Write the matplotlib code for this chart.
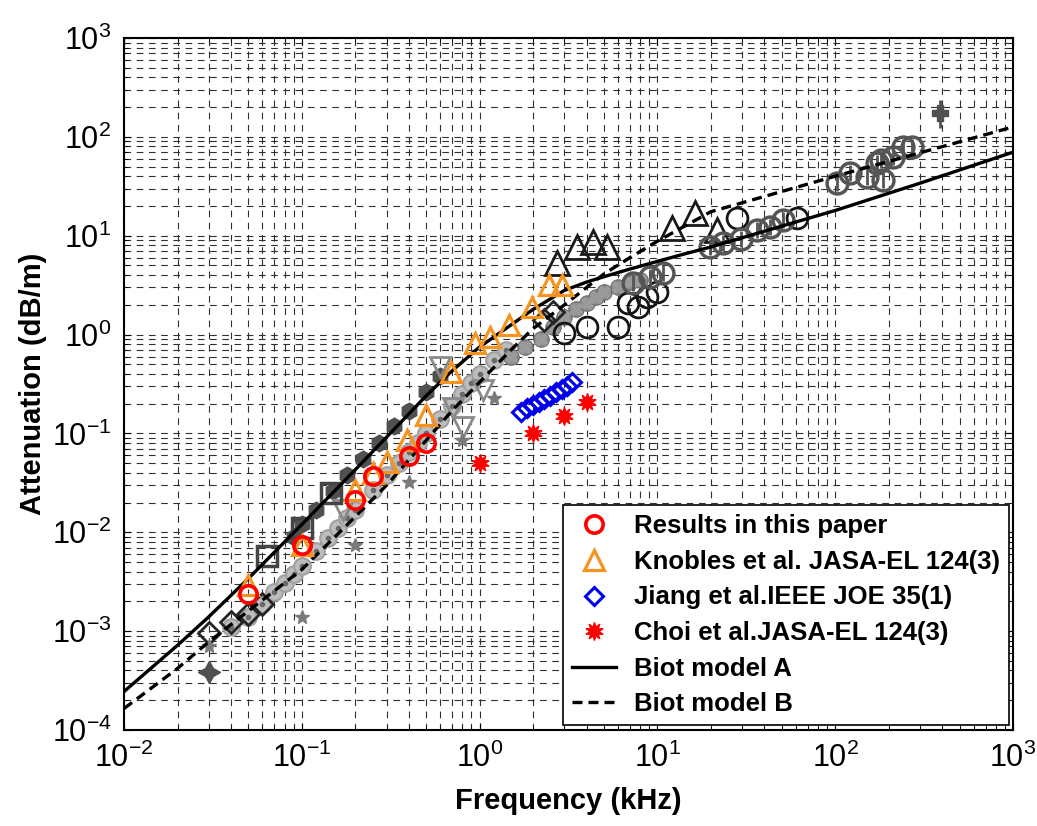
import numpy as np
import matplotlib.pyplot as plt
from matplotlib.ticker import NullFormatter

plt.rcParams['font.family'] = ['Liberation Sans', 'DejaVu Sans']
plt.rcParams['mathtext.default'] = 'regular'

# --- Biot model curves ---
f_model = [0.01, 0.02, 0.03, 0.05, 0.1, 0.2, 0.3, 0.5, 0.7, 1.0, 1.5, 2.0, 3.0, 4.0, 5.0, 7.0,
           10, 14, 20, 50, 100, 300, 1000]
biot_a = [2.45e-4, 7.2e-4, 1.4e-3, 3.4e-3, 0.012, 0.043, 0.092, 0.24, 0.43, 0.75, 1.25, 1.8, 2.8,
          3.4, 3.85, 4.6, 5.5, 6.5, 7.7, 12.5, 18, 34, 70]
biot_b = [1.65e-4, 4.2e-4, 7.8e-4, 1.6e-3, 4.2e-3, 0.0144, 0.03, 0.085, 0.17, 0.33, 0.7, 1.15,
          2.0, 3.0, 4.1, 6.0, 8.8, 12.3, 17.5, 28, 40, 69, 126]

# --- highlighted data sets ---
f_paper = [0.05, 0.1, 0.2, 0.25, 0.4, 0.5]
a_paper = [0.0024, 0.0074, 0.021, 0.037, 0.059, 0.08]

f_knobles = [0.05, 0.1, 0.2, 0.25, 0.3, 0.39, 0.5, 0.69, 0.94, 1.15, 1.47, 1.96, 2.47, 2.92]
a_knobles = [0.0029, 0.0074, 0.027, 0.040, 0.051, 0.086, 0.154, 0.42, 0.83, 0.95, 1.26, 1.9, 3.2, 3.2]

f_jiang = [1.7, 1.85, 2.0, 2.15, 2.3, 2.5, 2.7, 2.9, 3.1, 3.3]
a_jiang = [0.165, 0.18, 0.195, 0.21, 0.225, 0.24, 0.26, 0.28, 0.30, 0.33]

f_choi = [1.0, 2.0, 3.0, 4.0]
a_choi = [0.05, 0.10, 0.15, 0.21]

# --- background (grey) data sets ---
f_g_fill = [0.04, 0.05, 0.06, 0.07, 0.08, 0.09, 0.1, 0.12, 0.14, 0.16, 0.18, 0.2, 0.25, 0.3,
            0.35, 0.4, 0.45, 0.5, 0.6, 0.7, 0.8, 0.9, 1.0, 1.2, 1.4]
a_g_fill = [0.0011, 0.0014, 0.0019, 0.0025, 0.0031, 0.0038, 0.0046, 0.0065, 0.0088, 0.011, 0.014,
            0.017, 0.027, 0.038, 0.05, 0.065, 0.08, 0.1, 0.14, 0.19, 0.25, 0.32, 0.4, 0.55, 0.7]

f_g_hex = [0.09, 0.1, 0.12, 0.15, 0.18, 0.22, 0.27, 0.33, 0.4, 0.5, 0.6]
a_g_hex = [0.009, 0.012, 0.017, 0.026, 0.038, 0.055, 0.08, 0.12, 0.17, 0.26, 0.38]

f_g_tri_dn = [0.17, 0.6, 0.71, 0.81, 1.04]
a_g_tri_dn = [0.017, 0.47, 0.18, 0.116, 0.275]

f_g_sq = [0.064, 0.1, 0.145]
a_g_sq = [0.0057, 0.011, 0.025]

f_g_dia = [0.03, 0.04, 0.05, 0.06, 2.3, 2.6]
a_g_dia = [0.00095, 0.00125, 0.0015, 0.0019, 1.4, 1.7]

f_g_ast = [0.03, 0.1, 0.2, 0.4, 0.8, 1.2]
a_g_ast = [0.0007, 0.0014, 0.0075, 0.032, 0.085, 0.23]

f_g_band = [1.5, 1.8, 2.2, 2.6, 3.0, 3.5, 4.0, 4.5, 5.0, 6.0, 7.0, 8.0]
a_g_band = [0.6, 0.75, 0.9, 1.2, 1.5, 1.8, 2.1, 2.4, 2.7, 3.0, 3.4, 3.6]

f_g_circ = [3.0, 4.0, 6.0, 6.8, 7.8, 8.7, 9.9, 28, 61]
a_g_circ = [1.04, 1.2, 1.2, 2.1, 1.9, 2.4, 2.7, 15, 15]

f_g_tri_up = [2.72, 3.53, 4.35, 5.2, 12.1, 16.3, 21.6]
a_g_tri_up = [5.3, 7.7, 8.65, 7.7, 12, 17, 11.5]

f_g_cplus = [7.3, 9.1, 10.8, 19.8, 23.4, 29.6, 36.3, 42.8, 50.8, 102, 121, 151, 172, 180, 185, 212, 240, 270]
a_g_cplus = [3.3, 3.8, 4.2, 7.7, 8.5, 9.3, 11.5, 12.3, 14.3, 34, 43, 39, 54, 58, 37, 63, 79, 79]

f_g_err = [390]
a_g_err = [174]
err_lo = [51]
err_hi = [62]

f_g_star4 = [0.03]
a_g_star4 = [3.9e-4]

x_ticks = [1e-2, 1e-1, 1e0, 1e1, 1e2, 1e3]
y_ticks = [1e-4, 1e-3, 1e-2, 1e-1, 1e0, 1e1, 1e2, 1e3]

fig = plt.figure(figsize=(10.37, 8.26), dpi=100)
ax = fig.add_axes([0.1196, 0.1162, 0.8573, 0.8378])
ax.set_xscale('log')
ax.set_yscale('log')

grid_kw = dict(color='#303030', linewidth=0.8, linestyle=(0, (6, 5)))
ax.grid(True, which='both', **grid_kw)
ax.set_axisbelow(True)

# grey background sets
ax.plot(f_g_fill, a_g_fill, 'o', ms=12, mfc='#bdbdbd', mec='#a0a0a0', mew=1.5, zorder=2)
ax.plot(f_g_fill, a_g_fill, '.', ms=6, color='#6a6a6a', zorder=2)
ax.plot(f_g_band, a_g_band, 'o', ms=11, mfc='#8c8c8c', mec='#707070', zorder=2)
ax.plot(f_g_band, a_g_band, 'X', ms=9, color='#9a9a9a', zorder=2)
ax.plot(f_g_hex, a_g_hex, 'h', ms=12, color='#505050', zorder=3)
ax.plot(f_g_tri_dn, a_g_tri_dn, 'v', ms=14, mfc='none', mec='#8a8a8a', mew=2, zorder=3)
ax.plot(f_g_sq, a_g_sq, 's', ms=14, mfc='none', mec='#454545', mew=2.5, zorder=3)
ax.plot(f_g_dia, a_g_dia, 'D', ms=11, mfc='none', mec='#252525', mew=2, zorder=3)
ax.plot(f_g_ast, a_g_ast, '*', ms=10, color='#7a7a7a', zorder=3)
ax.plot(f_g_circ, a_g_circ, 'o', ms=15, mfc='none', mec='#151515', mew=2, zorder=3)
ax.plot(f_g_tri_up, a_g_tri_up, '^', ms=17, mfc='none', mec='#1a1a1a', mew=2, zorder=3)
ax.plot(f_g_cplus, a_g_cplus, 'o', ms=15, mfc='none', mec='#555555', mew=2.5, zorder=3)
ax.plot(f_g_cplus, a_g_cplus, '|', ms=12, color='#555555', mew=2, zorder=3)
ax.errorbar(f_g_err, a_g_err, yerr=[err_lo, err_hi], fmt='P', ms=12, color='#505050',
            ecolor='#505050', elinewidth=2, zorder=3)
ax.plot(f_g_star4, a_g_star4, marker=(4, 1, 0), ms=16, color='#505050', linestyle='none', zorder=3)

# model curves
la, = ax.plot(f_model, biot_a, '-', color='black', lw=2.4, zorder=4, label='Biot model A')
lb, = ax.plot(f_model, biot_b, color='black', lw=2.4, linestyle=(0, (3, 1.8)), zorder=4,
              label='Biot model B')

# highlighted sets
h1, = ax.plot(f_paper, a_paper, 'o', ms=12.5, mfc='none', mec='red', mew=2.6, zorder=6,
              label='Results in this paper')
h2, = ax.plot(f_knobles, a_knobles, '^', ms=15, mfc='none', mec='#f7931e', mew=2.3, zorder=5,
              label='Knobles et al. JASA-EL 124(3)')
h3, = ax.plot(f_jiang, a_jiang, 'D', ms=9, mfc='none', mec='#0000ee', mew=2.2, zorder=5,
              label='Jiang et al.IEEE JOE 35(1)')
h4, = ax.plot(f_choi, a_choi, marker=(10, 1, 0), ms=13, color='red', linestyle='none', zorder=5,
              label='Choi et al.JASA-EL 124(3)')

ax.set_xticks(x_ticks)
ax.set_yticks(y_ticks)
ax.set_xlim(1e-2, 1e3)
ax.set_ylim(1e-4, 1e3)
ax.xaxis.set_minor_formatter(NullFormatter())
ax.yaxis.set_minor_formatter(NullFormatter())
ax.tick_params(which='both', direction='in', top=True, right=True, labelsize=22)
ax.tick_params(which='major', length=5, pad=9)
ax.tick_params(which='minor', length=3)
for sp in ax.spines.values():
    sp.set_linewidth(1.5)

ax.set_xlabel('Frequency (kHz)', fontsize=21, fontweight='bold', va='top')
ax.set_ylabel('Attenuation (dB/m)', fontsize=21, fontweight='bold')
ax.xaxis.set_label_coords(0.5, -0.083)
ax.yaxis.set_label_coords(-0.087, 0.5)

leg = ax.legend(handles=[h1, h2, h3, h4, la, lb], loc='lower right', bbox_to_anchor=(0.995, 0.007),
                borderaxespad=0, fancybox=False, framealpha=1, edgecolor='black',
                prop={'weight': 'bold', 'size': 18.5}, handlelength=1.7, labelspacing=0.45,
                handletextpad=0.7, borderpad=0.35)
leg.get_frame().set_linewidth(1.2)

fig.savefig('out.png', dpi=100)
